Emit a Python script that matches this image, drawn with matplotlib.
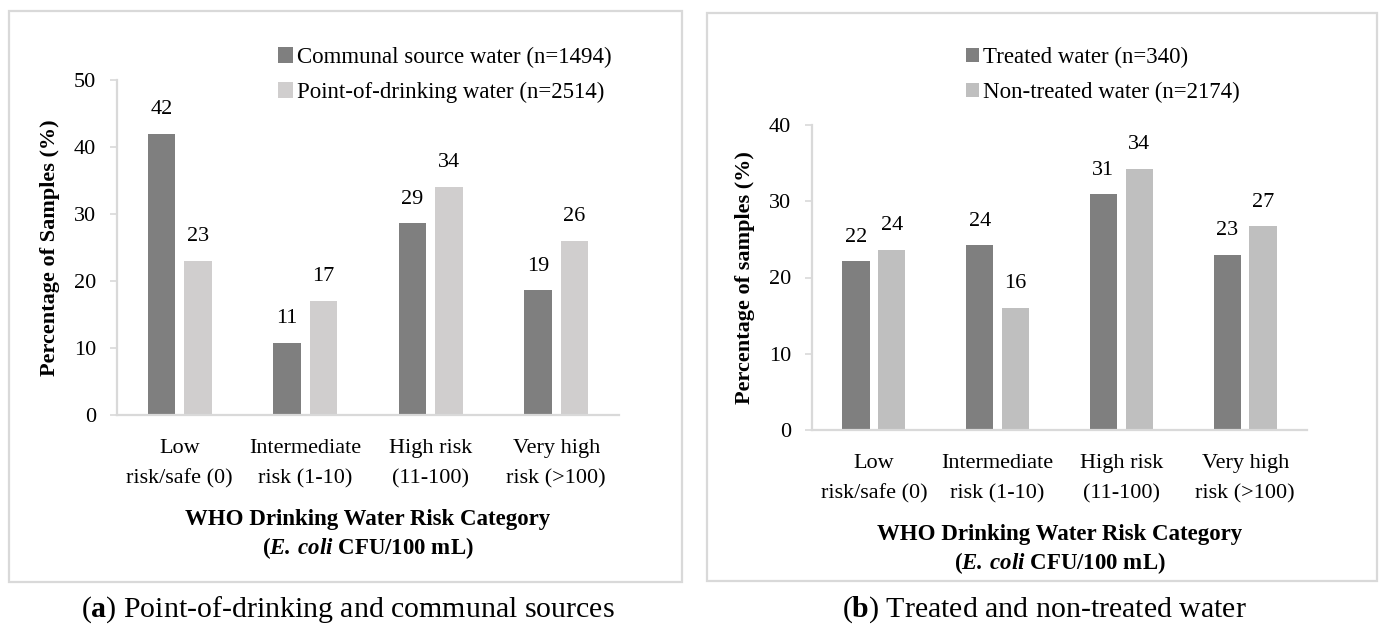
import matplotlib.pyplot as plt
from matplotlib.patches import Rectangle
import numpy as np

plt.rcParams['font.family'] = ['Liberation Serif', 'DejaVu Serif']
plt.rcParams['mathtext.fontset'] = 'custom'
plt.rcParams['mathtext.rm'] = 'Liberation Serif'
plt.rcParams['mathtext.it'] = 'Liberation Serif:italic'
plt.rcParams['mathtext.bf'] = 'Liberation Serif:bold'
plt.rcParams['mathtext.bfit'] = 'Liberation Serif:bold:italic'

categories = ["Low\nrisk/safe (0)", "Intermediate\nrisk (1-10)", "High risk\n(11-100)", "Very high\nrisk (>100)"]

# panel a
communal = [42.0, 10.8, 28.6, 18.6]
point_drink = [23.0, 17.0, 34.0, 26.0]
communal_lbl = ["42", "11", "29", "19"]
point_lbl = ["23", "17", "34", "26"]

# panel b
treated = [22.1, 24.2, 30.9, 23.0]
non_treated = [23.6, 16.0, 34.2, 26.7]
treated_lbl = ["22", "24", "31", "23"]
non_treated_lbl = ["24", "16", "34", "27"]

W, H = 1381, 625
fig = plt.figure(figsize=(W / 100, H / 100), dpi=100)
FS = 16

def px_axes(x0, x1, ytop, ybot):
    return fig.add_axes([x0 / W, (H - ybot) / H, (x1 - x0) / W, (ybot - ytop) / H])

def box(x0, x1, ytop, ybot):
    r = Rectangle((x0 / W, (H - ybot) / H), (x1 - x0) / W, (ybot - ytop) / H,
                  transform=fig.transFigure, fill=False, edgecolor="#d9d9d9", lw=1.6)
    fig.add_artist(r)

def panel(ax, s1, s2, l1, l2, c1, c2, names, ymax, ylabel):
    x = np.arange(len(categories))
    w = 0.22
    b1 = ax.bar(x - 0.145, s1, w, color=c1, label=names[0])
    b2 = ax.bar(x + 0.145, s2, w, color=c2, label=names[1])
    for bars, lbls in [(b1, l1), (b2, l2)]:
        for b, t in zip(bars, lbls):
            ax.annotate(t, (b.get_x() + b.get_width() / 2, b.get_height()),
                        xytext=(0, 17.5), textcoords="offset points",
                        ha="center", va="center", fontsize=FS)
    ax.set_xlim(-0.5, 3.5)
    ax.set_ylim(0, ymax)
    ax.set_yticks(range(0, ymax + 1, 10))
    ax.set_xticks(x)
    ax.set_xticklabels(categories, fontsize=FS, linespacing=1.8)
    ax.tick_params(axis="x", length=0, pad=17)
    ax.tick_params(axis="y", length=5, width=1.2, color="#d9d9d9", labelsize=FS, pad=10)
    for s in ["top", "right"]:
        ax.spines[s].set_visible(False)
    for s in ["left", "bottom"]:
        ax.spines[s].set_color("#d9d9d9")
        ax.spines[s].set_linewidth(1.6)
    ax.set_ylabel(ylabel, fontsize=16, fontweight="bold", labelpad=10)
    ax.set_xlabel("WHO Drinking Water Risk Category\n(" + r"$\mathbfit{E.\:coli}$" + " CFU/100 mL)",
                  fontsize=16.5, fontweight="bold", linespacing=1.25, labelpad=15)
    return ax

ax1 = px_axes(117, 619, 80, 415)
panel(ax1, communal, point_drink, communal_lbl, point_lbl, "#7f7f7f", "#d0cece",
      ["Communal source water (n=1494)", "Point-of-drinking water (n=2514)"], 50,
      "Percentage of Samples (%)")
fig.legend(handles=ax1.containers, labels=["Communal source water (n=1494)", "Point-of-drinking water (n=2514)"],
           loc="upper left", bbox_to_anchor=(278 / W, 1 - 47 / H), frameon=False, fontsize=16.5,
           borderpad=0, borderaxespad=0, handlelength=0.65, handleheight=0.65,
           handletextpad=0.2, labelspacing=0.6)

ax2 = px_axes(812, 1307, 125, 430)
panel(ax2, treated, non_treated, treated_lbl, non_treated_lbl, "#7f7f7f", "#bfbfbf",
      ["Treated water (n=340)", "Non-treated water (n=2174)"], 40,
      "Percentage of samples (%)")
fig.legend(handles=ax2.containers, labels=["Treated water (n=340)", "Non-treated water (n=2174)"],
           loc="upper left", bbox_to_anchor=(966 / W, 1 - 47 / H), frameon=False, fontsize=16.5,
           borderpad=0, borderaxespad=0, handlelength=0.55, handleheight=0.55,
           handletextpad=0.2, labelspacing=0.6)

box(9, 682, 11, 582)
box(707, 1377, 13, 581)

fig.text(348 / W, 1 - 610 / H, r"($\mathbf{a}$) Point-of-drinking and communal sources",
         ha="center", va="center", fontsize=21.5)
fig.text(1044 / W, 1 - 610 / H, r"($\mathbf{b}$) Treated and non-treated water",
         ha="center", va="center", fontsize=21.5)

fig.savefig("out.png", dpi=100)
